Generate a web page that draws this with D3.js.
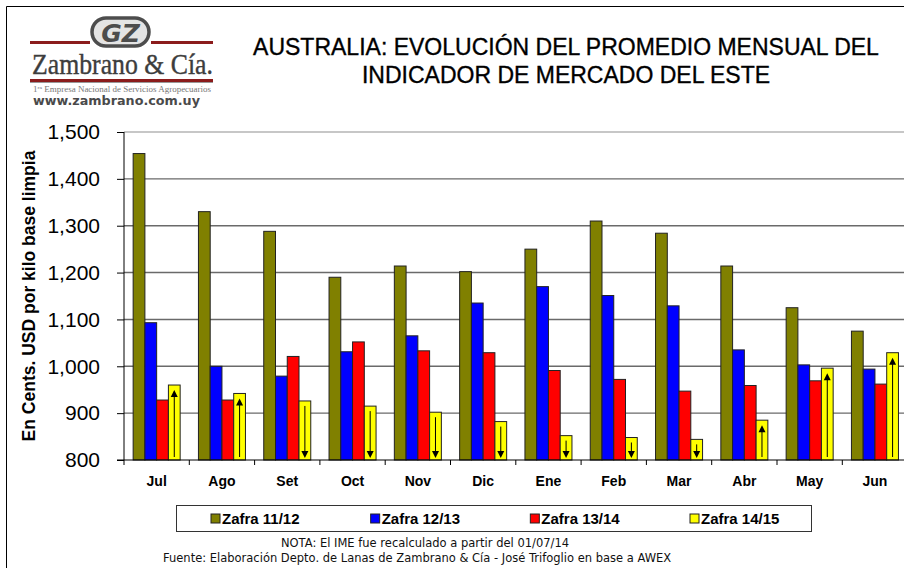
<!DOCTYPE html>
<html>
<head>
<meta charset="utf-8">
<script src="https://cdn.jsdelivr.net/npm/d3@7"></script>
<style>
  body { margin: 0; background: #fff; }
  svg { display: block; font-family: "Liberation Sans", Arial, sans-serif; }
</style>
</head>
<body>
<svg id="chart" width="904" height="568"></svg>
<script>
const months = ["Jul", "Ago", "Set", "Oct", "Nov", "Dic", "Ene", "Feb", "Mar", "Abr", "May", "Jun"];
const zafra1112 = [1454, 1330, 1288, 1190, 1214, 1202, 1250, 1310, 1284, 1214, 1125, 1075];
const zafra1213 = [1093, 1000, 979, 1031, 1065, 1135, 1170, 1151, 1129, 1035, 1003, 994];
const zafra1314 = [928, 928, 1021, 1052, 1033, 1029, 991, 972, 947, 959, 969, 962];
const zafra1415 = [960, 942, 926, 915, 902, 882, 852, 848, 844, 885, 996, 1029];
// direction of the arrow drawn inside each Zafra 14/15 bar
const trend1415 = ["up", "up", "down", "down", "down", "down", "down", "down", "down", "up", "up", "up"];
const seriesNames = ["Zafra 11/12", "Zafra 12/13", "Zafra 13/14", "Zafra 14/15"];
const yTicks = [800, 900, 1000, 1100, 1200, 1300, 1400, 1500];

const colors = ["#808000", "#0000ff", "#ff0000", "#ffff00"];
const seriesValues = [zafra1112, zafra1213, zafra1314, zafra1415];

const svg = d3.select("#chart");

// outer frame (cropped on the right and bottom like the original)
svg.append("path")
  .attr("d", "M6.5,568 V6.5 H904")
  .attr("fill", "none")
  .attr("stroke", "#000")
  .attr("stroke-width", 1);

// ---- logo ----
const logo = svg.append("g");
logo.append("rect").attr("x", 30).attr("y", 41).attr("width", 60).attr("height", 3).attr("fill", "#8b1c1c");
logo.append("rect").attr("x", 151).attr("y", 41).attr("width", 62).attr("height", 3).attr("fill", "#8b1c1c");
logo.append("rect").attr("x", 92).attr("y", 18).attr("width", 57).attr("height", 28).attr("rx", 14)
  .attr("fill", "#e4e4e4").attr("stroke", "#4d4d4d").attr("stroke-width", 3.5);
logo.append("text").attr("x", 120.5).attr("y", 42).attr("text-anchor", "middle")
  .attr("font-family", "'DejaVu Sans', sans-serif").attr("font-weight", "bold").attr("font-style", "italic")
  .attr("font-size", 25).attr("fill", "#4d4d4d").text("GZ");
logo.append("text").attr("x", 32).attr("y", 74)
  .attr("font-family", "'Liberation Serif', 'Times New Roman', serif").attr("font-size", 30)
  .attr("fill", "#3d3d3d").attr("stroke", "#3d3d3d").attr("stroke-width", 0.4)
  .attr("textLength", 181).attr("lengthAdjust", "spacingAndGlyphs")
  .text("Zambrano & Cía.");
logo.append("rect").attr("x", 30).attr("y", 79).attr("width", 183).attr("height", 3).attr("fill", "#8b1c1c");
logo.append("rect").attr("x", 30).attr("y", 82).attr("width", 183).attr("height", 1).attr("fill", "#999");
const tag = logo.append("text").attr("x", 33).attr("y", 92)
  .attr("font-family", "'Liberation Serif', serif").attr("font-size", 7.5).attr("fill", "#777")
  .attr("textLength", 178).attr("lengthAdjust", "spacingAndGlyphs");
tag.append("tspan").text("1");
tag.append("tspan").attr("font-size", 5).attr("dy", -3).text("ra");
tag.append("tspan").attr("dy", 3).text(" Empresa Nacional de Servicios Agropecuarios");
logo.append("text").attr("x", 33).attr("y", 105)
  .attr("font-family", "'DejaVu Sans', Verdana, sans-serif").attr("font-weight", "bold").attr("font-size", 11.5)
  .attr("fill", "#4a4a4a").attr("textLength", 167).attr("lengthAdjust", "spacingAndGlyphs")
  .text("www.zambrano.com.uy");

// ---- title ----
const title = svg.append("text")
  .attr("text-anchor", "middle")
  .attr("font-size", 23)
  .attr("fill", "#000")
  .attr("stroke", "#000")
  .attr("stroke-width", 0.35);
title.append("tspan").attr("x", 566).attr("y", 55).text("AUSTRALIA: EVOLUCIÓN DEL PROMEDIO MENSUAL DEL");
title.append("tspan").attr("x", 566).attr("y", 83).text("INDICADOR DE MERCADO DEL ESTE");

// ---- plot ----
const plotLeft = 124, plotTop = 132, plotW = 783.6, plotH = 328;
const g = svg.append("g").attr("transform", `translate(${plotLeft},${plotTop})`);

const x0 = d3.scaleBand().domain(months).range([0, plotW]).paddingInner(0.28).paddingOuter(0.14);
const x1 = d3.scaleBand().domain(seriesNames).range([0, x0.bandwidth()]);
const y = d3.scaleLinear().domain([800, 1500]).range([plotH, 0]);

// gridlines
g.append("g")
  .selectAll("line")
  .data(yTicks.filter((d) => d > 800))
  .join("line")
  .attr("x1", 0)
  .attr("x2", plotW)
  .attr("y1", (d) => y(d))
  .attr("y2", (d) => y(d))
  .attr("stroke", (d) => (d === 1500 ? "#b4b4b4" : "#6a6a6a"))
  .attr("stroke-width", 1.4);

// bars
const groups = g.append("g")
  .selectAll("g")
  .data(months)
  .join("g")
  .attr("transform", (m) => `translate(${x0(m)},0)`);

groups.selectAll("rect")
  .data((m, i) => seriesNames.map((s, k) => ({ s, k, v: seriesValues[k][i] })))
  .join("rect")
  .attr("x", (d) => x1(d.s))
  .attr("y", (d) => y(d.v))
  .attr("width", x1.bandwidth())
  .attr("height", (d) => y(800) - y(d.v))
  .attr("fill", (d) => colors[d.k])
  .attr("stroke", "#222")
  .attr("stroke-width", 1);

// arrows inside Zafra 14/15 bars
const arrows = g.append("g")
  .selectAll("g")
  .data(months.map((m, i) => ({ m, v: zafra1415[i], dir: trend1415[i] })))
  .join("g")
  .attr("transform", (d) => `translate(${x0(d.m) + x1("Zafra 14/15") + x1.bandwidth() / 2},0)`);

arrows.append("line")
  .attr("x1", 0)
  .attr("x2", 0)
  .attr("y1", (d) => (d.dir === "up" ? y(800) - 3 : y(d.v) + 5))
  .attr("y2", (d) => (d.dir === "up" ? y(d.v) + 10 : y(800) - 7))
  .attr("stroke", "#000")
  .attr("stroke-width", 1);

arrows.append("path")
  .attr("d", (d) =>
    d.dir === "up"
      ? `M0,${y(d.v) + 5} L3.5,${y(d.v) + 12} L-3.5,${y(d.v) + 12} Z`
      : `M0,${y(800) - 2} L3.5,${y(800) - 9} L-3.5,${y(800) - 9} Z`
  )
  .attr("fill", "#000");

// y axis
const yAxis = d3.axisLeft(y)
  .tickValues(yTicks)
  .tickFormat(d3.format(","))
  .tickSize(7)
  .tickPadding(17);

g.append("g")
  .call(yAxis)
  .call((ax) => ax.select(".domain").attr("d", `M0,0 V${plotH}`).attr("stroke", "#000"))
  .call((ax) => ax.selectAll(".tick line").attr("stroke", "#000"))
  .call((ax) =>
    ax.selectAll(".tick text")
      .attr("font-family", "'Liberation Sans', Arial, sans-serif")
      .attr("font-size", 21)
      .attr("fill", "#000")
  );

// x axis: baseline, boundary ticks and month labels
g.append("line")
  .attr("x1", -7)
  .attr("x2", plotW)
  .attr("y1", plotH)
  .attr("y2", plotH)
  .attr("stroke", "#000");

g.append("g")
  .selectAll("line")
  .data(d3.range(months.length + 1))
  .join("line")
  .attr("x1", (i) => i * x0.step())
  .attr("x2", (i) => i * x0.step())
  .attr("y1", plotH)
  .attr("y2", plotH + 5)
  .attr("stroke", "#000");

const xAxis = d3.axisBottom(x0).tickSize(0).tickPadding(16);
g.append("g")
  .attr("transform", `translate(0,${plotH})`)
  .call(xAxis)
  .call((ax) => ax.select(".domain").remove())
  .call((ax) =>
    ax.selectAll(".tick text")
      .attr("font-family", "'Liberation Sans', Arial, sans-serif")
      .attr("font-size", 14)
      .attr("font-weight", "bold")
      .attr("fill", "#000")
  );

// y axis title
svg.append("text")
  .attr("transform", `translate(35,${plotTop + plotH / 2}) rotate(-90)`)
  .attr("text-anchor", "middle")
  .attr("font-size", 17.5)
  .attr("font-weight", "bold")
  .text("En Cents. USD por kilo base limpia");

// ---- legend ----
const legend = svg.append("g");
legend.append("rect")
  .attr("x", 176.5)
  .attr("y", 505.5)
  .attr("width", 635)
  .attr("height", 26)
  .attr("fill", "#fff")
  .attr("stroke", "#333");

const legendX = d3.scalePoint().domain(seriesNames).range([211, 690]);
const items = legend.selectAll("g.item")
  .data(seriesNames)
  .join("g")
  .attr("class", "item")
  .attr("transform", (d) => `translate(${legendX(d)},514)`);

items.append("rect")
  .attr("width", 9)
  .attr("height", 9)
  .attr("fill", (d, i) => colors[i])
  .attr("stroke", "#222");

items.append("text")
  .attr("x", 11)
  .attr("y", 9.5)
  .attr("font-size", 15)
  .attr("font-weight", "bold")
  .text((d) => d);

// ---- notes ----
const notes = svg.append("g")
  .attr("font-family", "'DejaVu Sans', Tahoma, sans-serif")
  .attr("font-size", 11.5)
  .attr("fill", "#111");
notes.append("text").attr("x", 425).attr("y", 547).attr("text-anchor", "middle")
  .text("NOTA: El IME fue recalculado a partir del 01/07/14");
notes.append("text").attr("x", 163).attr("y", 562)
  .text("Fuente: Elaboración Depto. de Lanas de Zambrano & Cía - José Trifoglio en base a AWEX");
</script>
</body>
</html>
